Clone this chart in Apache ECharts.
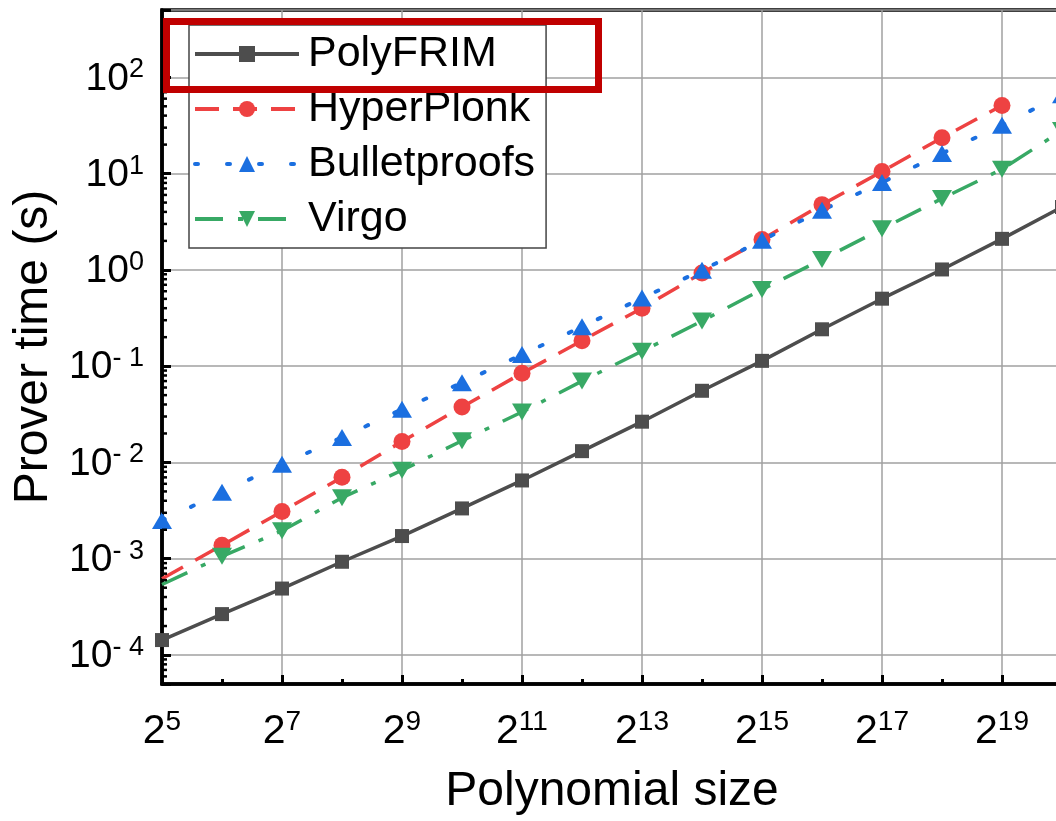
<!DOCTYPE html>
<html>
<head>
<meta charset="utf-8">
<script src="https://cdn.jsdelivr.net/npm/echarts@6/dist/echarts.min.js"></script>
<style>
html,body{margin:0;padding:0;background:#fff;overflow:hidden;width:1056px;height:821px;}
#chart{width:1072px;height:821px;}
</style>
</head>
<body>
<div id="chart"></div>
<script>
// Polynomial size exponents (size = 2^e)
var exponents = [5,6,7,8,9,10,11,12,13,14,15,16,17,18,19,20];
var seriesNames = ['PolyFRIM','HyperPlonk','Bulletproofs','Virgo'];
// Prover time (s)
var polyFRIM     = [1.43e-4, 2.66e-4, 4.9e-4, 9.3e-4, 1.72e-3, 3.33e-3, 6.5e-3, 0.0131, 0.0265, 0.0555, 0.1135, 0.2415, 0.502, 1.01, 2.1, 4.5];
var hyperPlonk   = [6.2e-4, 1.38e-3, 3.1e-3, 7.0e-3, 0.0165, 0.0376, 0.0845, 0.184, 0.40, 0.93, 2.07, 4.76, 10.5, 23.6, 51, null];
var bulletproofs = [2.5e-3, 4.9e-3, 9.6e-3, 0.0182, 0.0357, 0.0673, 0.132, 0.257, 0.51, 0.99, 2.03, 4.16, 8.1, 16.2, 31.8, 66];
var virgo        = [5.4e-4, 1.06e-3, 1.95e-3, 4.3e-3, 8.3e-3, 0.0168, 0.0334, 0.070, 0.143, 0.294, 0.627, 1.28, 2.67, 5.5, 11.1, 28];
// points drawn without a marker (first point of HyperPlonk and Virgo)
var hiddenMarkerIdx = {HyperPlonk:[0], Virgo:[0]};

var FONT = '"Liberation Sans", Arial, sans-serif';
var yMin = 5e-5, yMax = 500;

function pairs(name, vals){
  var hid = hiddenMarkerIdx[name] || [];
  var out = [];
  for (var i=0;i<exponents.length;i++){
    if (vals[i] == null) continue;
    var item = {value:[exponents[i], vals[i]]};
    if (hid.indexOf(i) >= 0) item.symbol = 'none';
    out.push(item);
  }
  return out;
}

// minor tick positions for log y axis
var minorTickData = [];
for (var n=-5;n<=2;n++){
  for (var k=2;k<=9;k++){
    var v = k*Math.pow(10,n);
    if (v > yMin && v < yMax) minorTickData.push([5, v]);
  }
}

var chart = echarts.init(document.getElementById('chart'), null, {renderer:'canvas'});
var option = {
  animation:false,
  backgroundColor:'#fff',
  grid:{left:162, right:10, top:10, bottom:136, show:true, borderColor:'#000', borderWidth:3.5, containLabel:false},
  legend:{
    data:seriesNames,
    orient:'vertical',
    left:189, top:25,
    padding:[7,11,7,4],
    itemGap:11,
    itemWidth:104, itemHeight:20,
    backgroundColor:'#fff',
    borderColor:'#444', borderWidth:1.5, borderRadius:0,
    lineStyle:{width:4},
    textStyle:{fontFamily:FONT, fontSize:43, color:'#000', lineHeight:44, padding:[0,0,0,4]}
  },
  xAxis:{
    type:'value', min:5, max:20, interval:2,
    name:'Polynomial size', nameLocation:'middle', nameGap:84,
    nameTextStyle:{fontFamily:FONT, fontSize:48, color:'#000'},
    axisLine:{show:true, lineStyle:{color:'#000', width:3.5}},
    axisTick:{show:true, inside:true, length:9, lineStyle:{color:'#000', width:3}},
    minorTick:{show:true, splitNumber:2, length:5, lineStyle:{color:'#000', width:3}},
    splitLine:{show:true, lineStyle:{color:'#a0a0a0', width:1.5}},
    axisLabel:{
      margin:24, color:'#000', fontFamily:FONT,
      formatter:function(v){
        if (Math.abs(v%2-1) < 1e-9 && v < 20) return '{b|2}{s|' + v + '}';
        return '';
      },
      rich:{
        b:{fontSize:41, fontFamily:FONT, color:'#000', lineHeight:44, verticalAlign:'bottom'},
        s:{fontSize:28, fontFamily:FONT, color:'#000', lineHeight:26, verticalAlign:'top'}
      }
    }
  },
  yAxis:{
    type:'log', logBase:10, min:yMin, max:yMax, splitNumber:7,
    name:'Prover time (s)', nameLocation:'middle', nameGap:100,
    nameTextStyle:{fontFamily:FONT, fontSize:48, color:'#000'},
    axisLine:{show:true, lineStyle:{color:'#000', width:3.5}},
    axisTick:{show:true, inside:true, length:9, lineStyle:{color:'#000', width:3}},
    splitLine:{show:true, lineStyle:{color:'#a0a0a0', width:1.5}},
    axisLabel:{
      margin:18, color:'#000', fontFamily:FONT,
      formatter:function(v){
        var l = Math.log(v)/Math.LN10;
        var e = Math.round(l);
        if (Math.abs(l-e) > 1e-6) return '';
        var s = e < 0 ? '- ' + (-e) : '' + e;
        return '{b|10}{s|' + s + '}';
      },
      rich:{
        b:{fontSize:39, fontFamily:FONT, color:'#000', lineHeight:42, verticalAlign:'bottom'},
        s:{fontSize:27, fontFamily:FONT, color:'#000', lineHeight:24, verticalAlign:'top'}
      }
    }
  },
  graphic:[{
    type:'rect', z:100,
    shape:{x:166.5, y:21.5, width:432, height:68},
    style:{fill:'none', stroke:'#C00000', lineWidth:7}
  }],
  series:[
    {
      type:'custom', name:'minorTicks', silent:true, clip:false, z:10,
      data:minorTickData, encode:{x:0, y:1},
      renderItem:function(params, api){
        var p = api.coord([api.value(0), api.value(1)]);
        return {type:'line', shape:{x1:p[0], y1:p[1], x2:p[0]+5, y2:p[1]}, style:{stroke:'#000', lineWidth:2.5}};
      }
    },
    {
      name:'PolyFRIM', type:'line', data:pairs('PolyFRIM', polyFRIM),
      symbol:'rect', symbolSize:14, color:'#4d4d4d',
      lineStyle:{width:3.5, color:'#4d4d4d'}, itemStyle:{color:'#4d4d4d'}
    },
    {
      name:'HyperPlonk', type:'line', data:pairs('HyperPlonk', hyperPlonk),
      symbol:'circle', symbolSize:17, color:'#EE4242',
      lineStyle:{width:3.5, color:'#EE4242', type:[24,14]}, itemStyle:{color:'#EE4242'}
    },
    {
      name:'Bulletproofs', type:'line', data:pairs('Bulletproofs', bulletproofs),
      symbol:'triangle', symbolSize:[20,17], color:'#1B6FE0',
      lineStyle:{width:4, color:'#1B6FE0', type:[3,29], cap:'round'}, itemStyle:{color:'#1B6FE0'}
    },
    {
      name:'Virgo', type:'line', data:pairs('Virgo', virgo),
      symbol:'triangle', symbolRotate:180, symbolSize:[20,17], color:'#38A965',
      lineStyle:{width:3.5, color:'#38A965', type:[28,15,5,15]}, itemStyle:{color:'#38A965'}
    }
  ]
};
chart.setOption(option);
</script>
</body>
</html>
